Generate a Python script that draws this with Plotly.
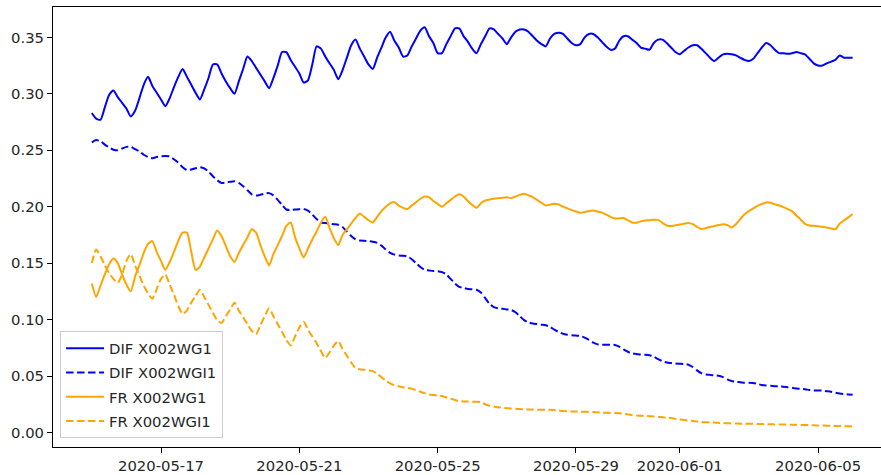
import pandas as pd
import plotly.graph_objects as go

# 3-hourly timestamps, 2020-05-15 00:00 .. 2020-06-06 00:00
times = pd.date_range("2020-05-15 00:00", periods=177, freq="3h")

dif_wg1 = [
    0.283, 0.278, 0.277, 0.288, 0.299, 0.303, 0.297, 0.292,
    0.287, 0.280, 0.285, 0.296, 0.308, 0.315, 0.307, 0.301,
    0.295, 0.289, 0.296, 0.306, 0.315, 0.322, 0.315, 0.308,
    0.301, 0.295, 0.304, 0.314, 0.326, 0.326, 0.318, 0.311,
    0.305, 0.300, 0.311, 0.322, 0.333, 0.329, 0.323, 0.317,
    0.311, 0.305, 0.314, 0.325, 0.337, 0.337, 0.330, 0.324,
    0.318, 0.310, 0.312, 0.326, 0.342, 0.340, 0.333, 0.327,
    0.321, 0.313, 0.321, 0.332, 0.343, 0.348, 0.340, 0.333,
    0.326, 0.322, 0.332, 0.341, 0.350, 0.355, 0.347, 0.341,
    0.333, 0.334, 0.342, 0.349, 0.356, 0.359, 0.351, 0.345,
    0.336, 0.336, 0.344, 0.351, 0.358, 0.358, 0.351, 0.346,
    0.340, 0.336, 0.344, 0.351, 0.358, 0.357, 0.353, 0.349,
    0.344, 0.350, 0.355, 0.357, 0.357, 0.355, 0.351, 0.347,
    0.344, 0.342, 0.349, 0.353, 0.354, 0.353, 0.349, 0.345,
    0.343, 0.344, 0.350, 0.353, 0.353, 0.350, 0.346, 0.342,
    0.339, 0.340, 0.347, 0.351, 0.351, 0.348, 0.345, 0.341,
    0.340, 0.339, 0.345, 0.348, 0.348, 0.345, 0.341, 0.337,
    0.335, 0.338, 0.341, 0.343, 0.343, 0.340, 0.336, 0.332,
    0.329, 0.332, 0.335, 0.3355, 0.335, 0.334, 0.332, 0.330,
    0.329, 0.331, 0.336, 0.341, 0.345, 0.343, 0.339, 0.336,
    0.336, 0.3355, 0.336, 0.337, 0.336, 0.335, 0.331, 0.327,
    0.325, 0.325, 0.327, 0.3285, 0.330, 0.334, 0.332, 0.332,
    0.332,
]

dif_wgi1 = [
    0.257, 0.259, 0.258, 0.255, 0.2525, 0.2505, 0.250, 0.2515,
    0.253, 0.253, 0.251, 0.249, 0.246, 0.244, 0.243, 0.244,
    0.2445, 0.245, 0.2445, 0.242, 0.239, 0.235, 0.2325, 0.233,
    0.234, 0.235, 0.234, 0.231, 0.227, 0.2235, 0.221, 0.2215,
    0.222, 0.2225, 0.221, 0.218, 0.2145, 0.211, 0.2098, 0.2105,
    0.2115, 0.212, 0.210, 0.206, 0.2015, 0.1975, 0.197, 0.1975,
    0.1978, 0.198, 0.1965, 0.193, 0.189, 0.186, 0.1855, 0.185,
    0.1845, 0.184, 0.182, 0.178, 0.174, 0.171, 0.170, 0.1698,
    0.1695, 0.169, 0.168, 0.1655, 0.162, 0.159, 0.1575, 0.1568,
    0.1565, 0.156, 0.1535, 0.150, 0.1465, 0.144, 0.1435, 0.143,
    0.1428, 0.142, 0.140, 0.136, 0.132, 0.129, 0.128, 0.127,
    0.1268, 0.1264, 0.124, 0.119, 0.114, 0.111, 0.110, 0.1095,
    0.109, 0.1085, 0.1065, 0.103, 0.0995, 0.0975, 0.0965, 0.096,
    0.0955, 0.095, 0.0935, 0.091, 0.089, 0.0875, 0.0866, 0.086,
    0.0858, 0.0855, 0.084, 0.082, 0.0795, 0.078, 0.0777, 0.0777,
    0.0777, 0.0775, 0.076, 0.0735, 0.0715, 0.070, 0.0695, 0.069,
    0.0688, 0.0684, 0.067, 0.065, 0.063, 0.062, 0.0615, 0.061,
    0.0608, 0.0606, 0.060, 0.058, 0.055, 0.0525, 0.0513, 0.051,
    0.0505, 0.0502, 0.049, 0.047, 0.0455, 0.0448, 0.0445, 0.044,
    0.0440, 0.0438, 0.043, 0.042, 0.0415, 0.0413, 0.041, 0.0408,
    0.0405, 0.040, 0.0395, 0.039, 0.0386, 0.0383, 0.0376, 0.0372,
    0.0372, 0.0370, 0.0365, 0.036, 0.0352, 0.0345, 0.034, 0.0337,
    0.0334,
]

fr_wg1 = [
    0.132, 0.120, 0.130, 0.140, 0.149, 0.154, 0.150, 0.140,
    0.131, 0.125, 0.138, 0.148, 0.159, 0.167, 0.1695, 0.160,
    0.152, 0.144, 0.151, 0.160, 0.170, 0.177, 0.177, 0.160,
    0.144, 0.147, 0.155, 0.163, 0.171, 0.179, 0.174, 0.165,
    0.156, 0.151, 0.159, 0.166, 0.173, 0.180, 0.177, 0.166,
    0.156, 0.148, 0.158, 0.166, 0.174, 0.183, 0.186, 0.173,
    0.163, 0.155, 0.163, 0.171, 0.178, 0.186, 0.191, 0.181,
    0.172, 0.166, 0.175, 0.180, 0.185, 0.190, 0.194, 0.191,
    0.188, 0.186, 0.191, 0.196, 0.200, 0.203, 0.204, 0.201,
    0.199, 0.198, 0.201, 0.204, 0.207, 0.209, 0.2085, 0.205,
    0.2025, 0.200, 0.203, 0.206, 0.209, 0.211, 0.209, 0.205,
    0.2015, 0.199, 0.203, 0.2055, 0.2063, 0.207, 0.2075, 0.208,
    0.2083, 0.2077, 0.209, 0.2105, 0.2115, 0.210, 0.2085, 0.206,
    0.2035, 0.201, 0.2018, 0.2027, 0.202, 0.200, 0.1985, 0.197,
    0.1958, 0.1947, 0.1953, 0.196, 0.1967, 0.1957, 0.1947, 0.193,
    0.191, 0.1895, 0.1897, 0.190, 0.188, 0.186, 0.1858, 0.187,
    0.1878, 0.188, 0.1884, 0.1883, 0.1857, 0.1833, 0.1828, 0.1835,
    0.1842, 0.1849, 0.1856, 0.1845, 0.1822, 0.1802, 0.181, 0.182,
    0.1828, 0.1837, 0.1845, 0.1838, 0.1815, 0.1845, 0.189, 0.1933,
    0.196, 0.1985, 0.2008, 0.2025, 0.2038, 0.2035, 0.2022, 0.201,
    0.1996, 0.1978, 0.196, 0.1921, 0.1885, 0.1848, 0.1833, 0.183,
    0.1826, 0.1823, 0.1815, 0.1807, 0.180, 0.185, 0.188, 0.1905,
    0.1935,
]

fr_wgi1 = [
    0.150, 0.162, 0.156, 0.148, 0.141, 0.136, 0.1325, 0.140,
    0.152, 0.158, 0.148, 0.139, 0.130, 0.123, 0.1185, 0.127,
    0.136, 0.140, 0.131, 0.122, 0.112, 0.105, 0.108, 0.115,
    0.121, 0.1265, 0.120, 0.113, 0.106, 0.0995, 0.097, 0.103,
    0.109, 0.115, 0.108, 0.102, 0.096, 0.090, 0.087, 0.095,
    0.103, 0.110, 0.103, 0.096, 0.089, 0.082, 0.077, 0.085,
    0.093, 0.098, 0.091, 0.085, 0.079, 0.072, 0.066, 0.071,
    0.077, 0.081, 0.074, 0.068, 0.062, 0.057, 0.056, 0.0555,
    0.055, 0.0543, 0.052, 0.049, 0.046, 0.0435, 0.0418, 0.041,
    0.040, 0.0393, 0.0388, 0.0375, 0.036, 0.0348, 0.0336, 0.0331,
    0.0326, 0.0322, 0.031, 0.030, 0.0288, 0.0278, 0.0274, 0.0273,
    0.0272, 0.0271, 0.0268, 0.025, 0.0235, 0.0228, 0.0224, 0.0218,
    0.0215, 0.0212, 0.021, 0.0207, 0.0205, 0.0204, 0.0203, 0.0202,
    0.0201, 0.0201, 0.0200, 0.0198, 0.0194, 0.019, 0.0188, 0.0186,
    0.0185, 0.0184, 0.0183, 0.0182, 0.018, 0.0178, 0.0176, 0.0174,
    0.0173, 0.0172, 0.0170, 0.0165, 0.016, 0.0155, 0.015, 0.0148,
    0.0146, 0.0144, 0.0142, 0.014, 0.0135, 0.013, 0.0128, 0.012,
    0.0114, 0.011, 0.0105, 0.0101, 0.0097, 0.0093, 0.009, 0.0089,
    0.0087, 0.0085, 0.0083, 0.0081, 0.008, 0.0079, 0.0078, 0.0077,
    0.0077, 0.0076, 0.0075, 0.0074, 0.0073, 0.0072, 0.0071, 0.007,
    0.007, 0.0069, 0.0068, 0.0068, 0.0067, 0.0066, 0.0065, 0.0063,
    0.0062, 0.0061, 0.006, 0.0059, 0.0058, 0.0057, 0.0056, 0.0055,
    0.0053,
]

x_tick_vals = ["2020-05-17", "2020-05-21", "2020-05-25", "2020-05-29",
               "2020-06-01", "2020-06-05"]
x_tick_text = ["2020-05-17", "2020-05-21", "2020-05-25", "2020-05-29",
               "2020-06-01", "2020-06-05"]
y_tick_vals = [0.00, 0.05, 0.10, 0.15, 0.20, 0.25, 0.30, 0.35]

series = [
    ("DIF X002WG1", dif_wg1, "#0000ff", "solid"),
    ("DIF X002WGI1", dif_wgi1, "#0000ff", "7.5px,3.5px"),
    ("FR X002WG1", fr_wg1, "#ffa500", "solid"),
    ("FR X002WGI1", fr_wgi1, "#ffa500", "7.5px,3.5px"),
]

FONT = "DejaVu Sans"
TXT = "#262626"
FS = 14.8

fig = go.Figure()
for i, (name, vals, color, dash) in enumerate(series):
    fig.add_trace(go.Scatter(
        x=times, y=vals, name=name, mode="lines",
        line=dict(color=color, width=2, dash=dash, shape="spline", smoothing=0.6),
        legendgroup=f"g{i}",
    ))

fig.update_layout(
    width=881, height=475,
    margin=dict(l=53, r=0, t=7, b=28),
    paper_bgcolor="white", plot_bgcolor="white",
    font=dict(family=FONT, size=FS, color=TXT),
    showlegend=True,
    legend=dict(
        x=0.0085, y=0.02, xanchor="left", yanchor="bottom",
        bgcolor="rgba(255,255,255,0.8)", bordercolor="#cccccc", borderwidth=1,
        font=dict(family=FONT, size=FS, color=TXT),
        tracegroupgap=2, traceorder="grouped", itemwidth=38,
    ),
    xaxis=dict(
        type="date",
        range=["2020-05-13 21:03", "2020-06-06 19:41"],
        tickmode="array", tickvals=x_tick_vals, ticktext=x_tick_text,
        ticks="outside", ticklen=5, tickwidth=1, tickcolor="black",
        showline=True, linecolor="black", linewidth=1, mirror=True,
        showgrid=False, zeroline=False,
        tickfont=dict(family=FONT, size=FS, color=TXT),
    ),
    yaxis=dict(
        range=[-0.0129, 0.3769],
        tickmode="array", tickvals=y_tick_vals, tickformat=".2f",
        ticks="outside", ticklen=5, tickwidth=1, tickcolor="black",
        showline=True, linecolor="black", linewidth=1, mirror=False,
        showgrid=False, zeroline=False,
        tickfont=dict(family=FONT, size=FS, color=TXT),
    ),
)

fig.write_html("out.html")
